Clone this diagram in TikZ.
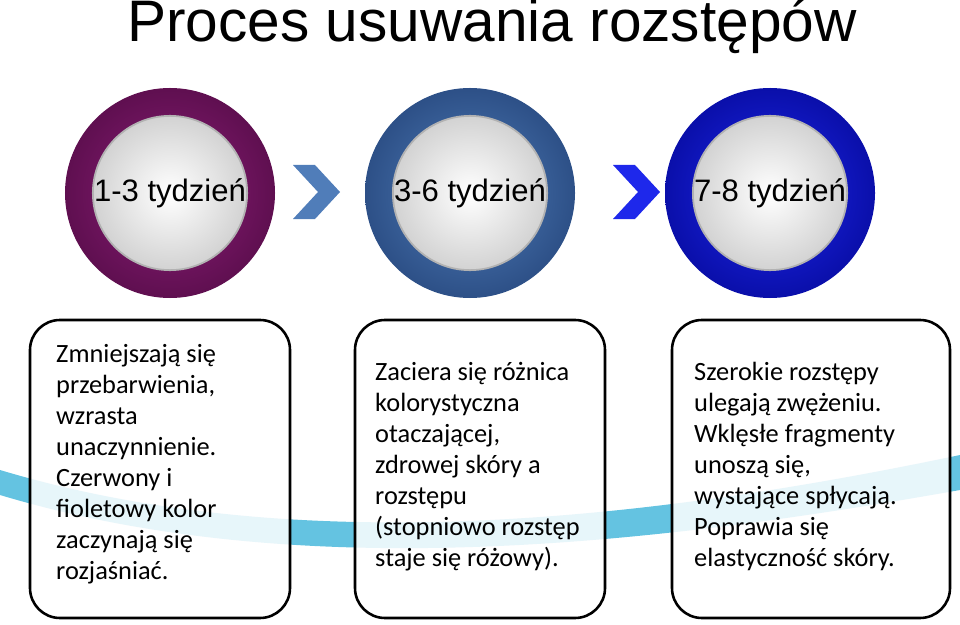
\documentclass[tikz,border=0pt]{standalone}
\usepackage{fontspec}
\setmainfont{Liberation Sans}
\newfontfamily\boxfont{Carlito}
\usetikzlibrary{positioning}
\definecolor{plumIn}{RGB}{140,30,120}
\definecolor{plumOut}{RGB}{95,15,80}
\definecolor{steelIn}{RGB}{80,125,185}
\definecolor{steelOut}{RGB}{45,80,135}
\definecolor{royalIn}{RGB}{30,40,235}
\definecolor{royalOut}{RGB}{10,15,170}
\definecolor{swoosh}{RGB}{100,195,225}

\begin{document}
\begin{tikzpicture}[x=0.03cm,y=-0.03cm,
    ring/.style={circle, minimum size=6.3cm, inner sep=0pt},
    disc/.style={circle, minimum size=4.5cm, inner sep=0pt, draw=gray!60, line width=1.5pt,
      inner color=white, outer color=gray!35, font=\fontsize{26.5}{30}\selectfont},
    stagebox/.style={draw, line width=2.2pt, rounded corners=0.9cm, fill=white, fill opacity=0.85},
    note/.style={font=\boxfont\fontsize{22.5}{26.5}\selectfont, align=left, anchor=north west, inner sep=0pt}]
    \useasboundingbox (0,0) rectangle (960,625);

    \node (title) at (492,26) {\fontsize{50}{56}\selectfont Proces usuwania rozstępów};

    % swoosh behind the boxes
    \fill[swoosh] (0,470) .. controls (300,560) and (650,520) .. (960,455)
      -- (960,490) .. controls (650,545) and (300,585) .. (0,495) -- cycle;

    % rings
    \node[ring, shading=radial, inner color=plumIn, outer color=plumOut] (ringA) at (170,193) {};
    \node[ring, shading=radial, inner color=steelIn, outer color=steelOut] (ringB) at (470,193) {};
    \node[ring, shading=radial, inner color=royalIn, outer color=royalOut] (ringC) at (770,193) {};
    \node[disc] (discA) at (ringA) {1-3 tydzień};
    \node[disc] (discB) at (ringB) {3-6 tydzień};
    \node[disc] (discC) at (ringC) {7-8 tydzień};

    % chevrons
    \fill[steelIn] (293,165) -- (315,165) -- (340,192) -- (315,219) -- (293,219) -- (318,192) -- cycle;
    \fill[royalIn] (613,165) -- (635,165) -- (660,192) -- (635,219) -- (613,219) -- (638,192) -- cycle;

    % boxes
    \draw[stagebox] (30,320) rectangle (290,618);
    \draw[stagebox] (355,320) rectangle (605,618);
    \draw[stagebox] (672,320) rectangle (950,618);

    \node[note] (noteA) at (56,344) {Zmniejszają się\\przebarwienia,\\wzrasta\\unaczynnienie.\\Czerwony i\\fioletowy kolor\\zaczynają się\\rozjaśniać.};
    \node[note] (noteB) at (375,362) {Zaciera się różnica\\kolorystyczna\\otaczającej,\\zdrowej skóry a\\rozstępu\\(stopniowo rozstęp\\staje się różowy).};
    \node[note] (noteC) at (694,362) {Szerokie rozstępy\\ulegają zwężeniu.\\Wklęsłe fragmenty\\unoszą się,\\wystające spłycają.\\Poprawia się\\elastyczność skóry.};
\end{tikzpicture}
\end{document}
